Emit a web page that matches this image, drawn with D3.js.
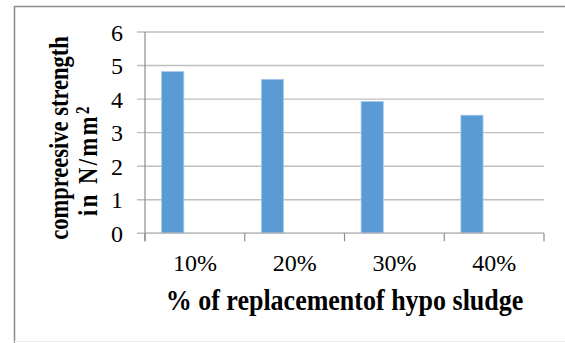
<!DOCTYPE html>
<html>
<head>
<meta charset="utf-8">
<script src="https://cdnjs.cloudflare.com/ajax/libs/d3/7.8.5/d3.min.js"></script>
<style>
  body { margin: 0; background: #fff; }
</style>
</head>
<body>
<div id="chart"></div>
<script>
// chart values
var categories = ["10%", "20%", "30%", "40%"];
var strength = [4.82, 4.59, 3.93, 3.52];
var yTicks = [0, 1, 2, 3, 4, 5, 6];
// excel cluster has three series slots, only the first one is filled
var seriesSlots = ["s1", "s2", "s3"];

var serif = "'Liberation Serif', 'Times New Roman', serif";

function init(){
    var w = 565;
    var h = 343;
    var left = 145, right = 544, top = 32, bottom = 233.3;

    var svg = d3.select("#chart")
      .append("svg")
      .attr("width", w)
      .attr("height", h);

    // outer frame (top + left, faint bottom)
    svg.append("line").attr("x1", 14.5).attr("x2", w).attr("y1", 6.5).attr("y2", 6.5)
      .attr("stroke", "#8a8a8a").attr("stroke-width", 1.5);
    svg.append("line").attr("x1", 14.5).attr("x2", 14.5).attr("y1", 6).attr("y2", h)
      .attr("stroke", "#8a8a8a").attr("stroke-width", 1.5);
    svg.append("line").attr("x1", 14).attr("x2", w).attr("y1", 341.5).attr("y2", 341.5)
      .attr("stroke", "#ececec").attr("stroke-width", 1);

    var xScale = d3.scaleBand()
      .domain(categories)
      .range([left, right])
      .paddingInner(0)
      .paddingOuter(0);

    var slotScale = d3.scaleBand()
      .domain(seriesSlots)
      .range([0, xScale.bandwidth()])
      .paddingInner(0)
      .paddingOuter(0.75);

    var yScale = d3.scaleLinear()
      .domain([0, 6])
      .range([bottom, top]);

    // gridlines
    svg.append("g")
      .selectAll("line")
      .data(yTicks)
      .enter()
      .append("line")
      .attr("x1", left - 8)
      .attr("x2", right)
      .attr("y1", function(d){ return yScale(d); })
      .attr("y2", function(d){ return yScale(d); })
      .attr("stroke", "#bebebe")
      .attr("stroke-width", 1.4);

    // bars
    svg.append("g")
      .selectAll("rect")
      .data(strength)
      .enter()
      .append("rect")
      .attr("x", function(d, i){ return xScale(categories[i]) + slotScale("s1"); })
      .attr("y", function(d){ return yScale(d); })
      .attr("width", slotScale.bandwidth())
      .attr("height", function(d){ return bottom - yScale(d); })
      .attr("fill", "#5b9bd5")
      .attr("stroke", "#a9c9ea")
      .attr("stroke-width", 0.8);

    // y axis
    var yAxis = d3.axisLeft(yScale).tickValues(yTicks).tickFormat(d3.format("d"))
      .tickSize(0).tickPadding(22);
    var gy = svg.append("g")
      .attr("transform", "translate(" + left + ",0)")
      .call(yAxis)
      .attr("font-family", serif)
      .attr("font-size", 24);
    gy.select(".domain").attr("stroke", "#8c8c8c").attr("stroke-width", 1.2)
      .attr("d", "M0," + top + "V" + (bottom + 8));
    gy.selectAll("text").attr("dy", "0.34em").attr("fill", "#000");

    // x axis
    var xAxis = d3.axisBottom(xScale).tickSize(0).tickPadding(21);
    var gx = svg.append("g")
      .attr("transform", "translate(0," + bottom + ")")
      .call(xAxis)
      .attr("font-family", serif)
      .attr("font-size", 24);
    gx.select(".domain").attr("stroke", "#bebebe").attr("stroke-width", 1.4)
      .attr("d", "M" + left + ",0H" + right);
    gx.selectAll("text").attr("dy", "0.71em").attr("fill", "#000");

    // category boundary ticks
    var bounds = categories.map(function(c){ return xScale(c); }).concat([right]);
    svg.append("g")
      .selectAll("line")
      .data(bounds)
      .enter()
      .append("line")
      .attr("x1", function(d){ return d; })
      .attr("x2", function(d){ return d; })
      .attr("y1", bottom)
      .attr("y2", bottom + 8)
      .attr("stroke", "#8c8c8c")
      .attr("stroke-width", 1.2);

    // axis titles
    svg.append("text")
      .attr("transform", "translate(" + ((left + right) / 2) + ",310) scale(1,1.12)")
      .attr("text-anchor", "middle")
      .attr("font-family", serif)
      .attr("font-size", 26)
      .attr("font-weight", "bold")
      .text("% of replacementof hypo sludge");

    svg.append("text")
      .attr("transform", "translate(68,138) rotate(-90) scale(1,1.2)")
      .attr("text-anchor", "middle")
      .attr("font-family", serif)
      .attr("font-size", 22.5)
      .attr("font-weight", "bold")
      .text("compreesive strength");

    var t2 = svg.append("text")
      .attr("transform", "translate(97,160) rotate(-90) scale(1,1.2)")
      .attr("text-anchor", "middle")
      .attr("font-family", serif)
      .attr("font-size", 22.5)
      .attr("font-weight", "bold")
      .attr("letter-spacing", 2.5);
    t2.append("tspan").text("in N/mm");
    t2.append("tspan").attr("dy", "-0.45em").attr("font-size", 15).text("2");
}

window.onload = init;
</script>
</body>
</html>
